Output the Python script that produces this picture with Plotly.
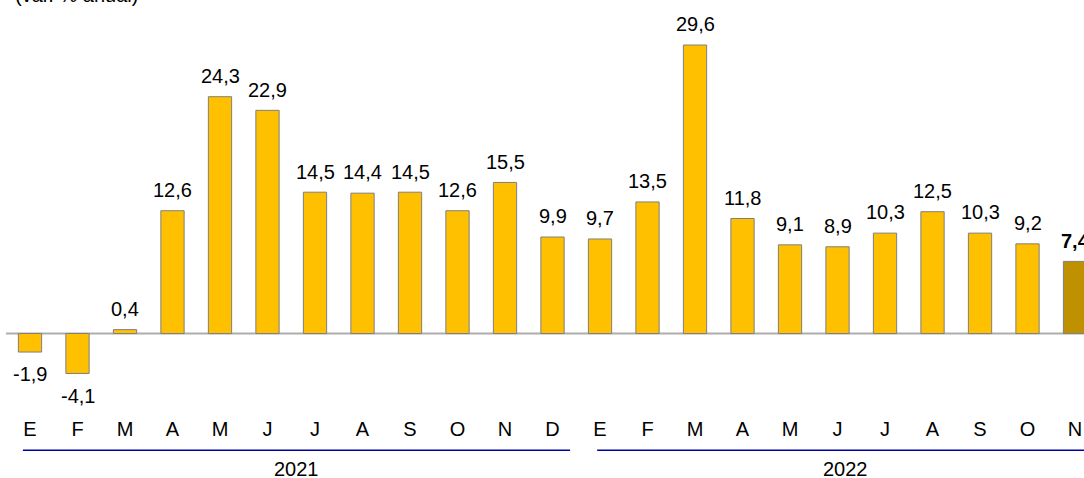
import plotly.graph_objects as go

months = ["E", "F", "M", "A", "M", "J", "J", "A", "S", "O", "N", "D",
          "E", "F", "M", "A", "M", "J", "J", "A", "S", "O", "N"]
values = [-1.9, -4.1, 0.4, 12.6, 24.3, 22.9, 14.5, 14.4, 14.5, 12.6, 15.5, 9.9,
          9.7, 13.5, 29.6, 11.8, 9.1, 8.9, 10.3, 12.5, 10.3, 9.2, 7.4]
years = ["2021", "2022"]
year_spans = [(-0.15, 11.37), (11.94, 22.4)]
title_text = "(var. % anual)"

BAR = "#FFC000"
LAST = "#BF9000"
FONT = "Liberation Sans, Arial, sans-serif"
FS = 20

n = len(values)
xs = list(range(n))
colors = [BAR] * (n - 1) + [LAST]

fig = go.Figure()
fig.add_trace(go.Bar(
    x=xs, y=values, width=0.49,
    marker=dict(color=colors, line=dict(color="#7F7F7F", width=1)),
    hoverinfo="skip",
))

H_PLOT = 415
fig.update_layout(
    width=1084, height=478,
    margin=dict(l=0, r=0, t=0, b=478 - H_PLOT),
    plot_bgcolor="white", paper_bgcolor="white",
    showlegend=False,
    font=dict(family=FONT, size=FS, color="#000000"),
    xaxis=dict(range=[-0.6316, 22.189], tickmode="array", tickvals=xs, ticktext=months,
               showgrid=False, zeroline=False, showline=False, ticks="",
               tickfont=dict(family=FONT, size=FS, color="#000000")),
    yaxis=dict(range=[-8.36, 34.22], visible=False, showgrid=False, zeroline=False),
)

# zero line
fig.add_shape(type="line", xref="x", yref="y", x0=-0.505, x1=23, y0=0, y1=0,
              line=dict(color="#ADADAD", width=2), layer="below")

# data labels
for i, v in enumerate(values):
    last = i == n - 1
    fig.add_annotation(
        x=i, y=v, xref="x", yref="y",
        text=(f"<b>{v:.1f}</b>" if last else f"{v:.1f}").replace(".", ","),
        showarrow=False, yanchor="middle",
        yshift=20.7 if v >= 0 else -22.4,
        font=dict(family=FONT, size=FS, color="#000000"),
    )

# year brackets and labels
for yr, (a, b) in zip(years, year_spans):
    fig.add_shape(type="line", xref="x", yref="paper", x0=a, x1=b,
                  y0=(H_PLOT - 450.3) / H_PLOT, y1=(H_PLOT - 450.3) / H_PLOT,
                  line=dict(color="#0000A0", width=1.5))
    fig.add_annotation(x=(a + b) / 2, xref="x", y=(H_PLOT - 469) / H_PLOT, yref="paper",
                       text=yr, showarrow=False, yanchor="middle",
                       font=dict(family=FONT, size=FS, color="#000000"))

# title (cut off at the top)
fig.add_annotation(x=13 / 1084, xref="paper", y=1 + 5 / H_PLOT, yref="paper",
                   text=title_text, showarrow=False, xanchor="left", yanchor="middle",
                   font=dict(family=FONT, size=FS, color="#000000"))

fig.write_html("out.html", config={"displayModeBar": False},
               post_script="document.body.style.margin='0';document.body.style.overflow='hidden';")
